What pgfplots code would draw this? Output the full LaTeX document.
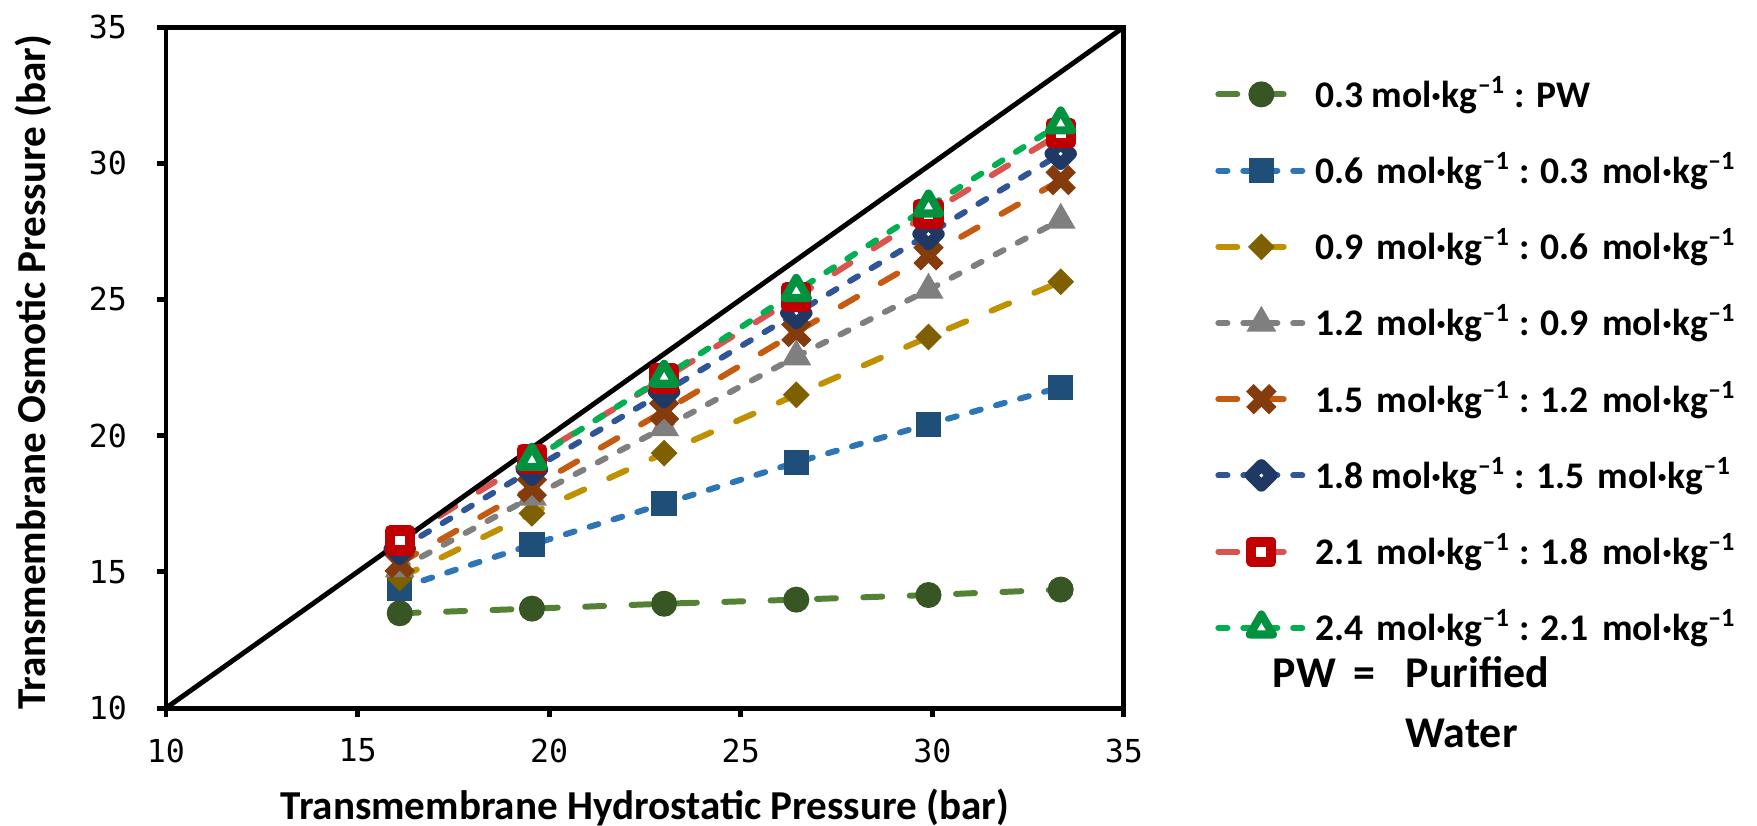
\documentclass[border=0pt]{standalone}
\usepackage{pgfplots}
\usepackage{pgfplotstable}
\pgfplotsset{compat=1.18}
\usepackage{fontspec}
\setmainfont{Carlito}
\newfontfamily\tickfont{DejaVu Sans Mono}

\definecolor{pwline}{HTML}{548235}
\definecolor{pwmark}{HTML}{375623}
\definecolor{bline}{HTML}{2E75B6}
\definecolor{bmark}{HTML}{1F4E79}
\definecolor{gline}{HTML}{BF9000}
\definecolor{gmark}{HTML}{7F6000}
\definecolor{grline}{HTML}{7F7F7F}
\definecolor{grmark}{HTML}{7F7F7F}
\definecolor{oline}{HTML}{C55A11}
\definecolor{omark}{HTML}{843C0C}
\definecolor{nline}{HTML}{2F5597}
\definecolor{nmark}{HTML}{203864}
\definecolor{rline}{HTML}{D9534F}
\definecolor{rmark}{HTML}{C00000}
\definecolor{eline}{HTML}{00B050}
\definecolor{emark}{HTML}{00923F}

\pgfplotstableread{
x      pw     a      b      c      d      e      f      g
16.10  13.48  14.40  14.78  15.12  15.32  15.85  16.15  nan
19.55  13.65  16.00  17.15  17.75  18.10  18.75  19.15  19.10
23.00  13.83  17.50  19.36  20.30  20.90  21.60  22.10  22.15
26.45  13.98  19.02  21.50  22.90  23.80  24.50  25.08  25.30
29.90  14.15  20.42  23.62  25.35  26.62  27.40  28.15  28.40
33.35  14.35  21.78  25.65  27.92  29.38  30.35  31.10  31.45
}\datatable

\pgfplotstableread{
x y
10 10
35 35
}\diagtable

\pgfplotsset{
  ldash/.style={dash pattern=on 5.4pt off 7.8pt},
  sdash/.style={dash pattern=on 2.6pt off 4.5pt},
  ser/.style={line width=1.7pt, line cap=round},
}
\newcommand{\wsp}{\hspace{0.35em}}
\newcommand{\mk}{mol·kg\textsuperscript{–1}}

\begin{document}
\begin{tikzpicture}
\begin{axis}[
  scale only axis,
  width=272.6pt, height=193.8pt,
  xmin=10, xmax=35, ymin=10, ymax=35,
  xtick={10,15,...,35}, ytick={10,15,...,35},
  tick pos=left,
  tick align=outside,
  major tick length=2.6pt,
  major tick style={black, line width=1.4pt},
  axis line style={black, line width=1.4pt},
  tick label style={font=\tickfont\fontsize{9}{10}\selectfont},
  yticklabel style={xshift=-5pt},
  xticklabel style={yshift=-2.6pt},
  /pgf/number format/assume math mode=true,
  xlabel={Transmembrane Hydrostatic Pressure (bar)},
  ylabel={Transmembrane Osmotic Pressure (bar)},
  label style={font=\bfseries\fontsize{11.7}{13}\selectfont},
  xlabel style={at={(axis description cs:0.5,-0.1455)}, anchor=center},
  ylabel style={at={(axis description cs:-0.138,0.493)}, anchor=center},
  legend cell align=left,
  legend style={
    at={(axis description cs:1.0837,0.9495)}, anchor=north west,
    draw=none, fill=none,
    font=\bfseries\fontsize{10.7}{12.5}\selectfont,
    row sep=7.35pt, column sep=0.2pt,
  },
  legend image code/.code={
    \draw[mark repeat=2,mark phase=2] plot coordinates {(0pt,0pt) (12.25pt,0pt) (24.5pt,0pt)};
  },
]
\addplot[ser, pwline, ldash, mark=*, mark size=3.5pt,
  mark options={solid, fill=pwmark, draw=pwmark, line width=0.4pt}]
  table[x=x, y=pw] {\datatable};
\addlegendentry{0.3 \mk\ : PW}
\addplot[ser, bline, sdash, mark=square*, mark size=3.4pt,
  mark options={solid, fill=bmark, draw=bmark, line width=0.4pt}]
  table[x=x, y=a] {\datatable};
\addlegendentry{0.6\wsp\mk\ : 0.3\wsp\mk}
\addplot[ser, gline, ldash, mark=square*, mark size=2.5pt,
  mark options={solid, rotate=45, fill=gmark, draw=gmark, line width=0.4pt}]
  table[x=x, y=b] {\datatable};
\addlegendentry{0.9\wsp\mk\ : 0.6\wsp\mk}
\addplot[ser, grline, sdash, mark=triangle*, mark size=4.5pt,
  mark options={solid, fill=grmark, draw=grmark, line width=0.4pt}]
  table[x=x, y=c] {\datatable};
\addlegendentry{1.2\wsp\mk\ : 0.9\wsp\mk}
\addplot[ser, oline, ldash, mark=x, mark size=4.6pt,
  mark options={solid, draw=omark, line width=3pt, line cap=butt}]
  table[x=x, y=d] {\datatable};
\addlegendentry{1.5\wsp\mk\ : 1.2\wsp\mk}
\addplot[ser, nline, sdash, mark=square*, mark size=2.1pt,
  mark options={solid, rotate=45, fill=white, draw=nmark, line width=3.3pt, line join=round}]
  table[x=x, y=e] {\datatable};
\addlegendentry{1.8 \mk\ : 1.5\wsp\mk}
\addplot[ser, rline, ldash, mark=square*, mark size=2.85pt,
  mark options={solid, fill=white, draw=rmark, line width=2.9pt, line join=round}]
  table[x=x, y=f] {\datatable};
\addlegendentry{2.1\wsp\mk\ : 1.8\wsp\mk}
\addplot[ser, eline, sdash, mark=triangle*, mark size=3.8pt,
  mark options={solid, fill=white, draw=emark, line width=2.3pt, line join=round}]
  table[x=x, y=g] {\datatable};
\addlegendentry{2.4\wsp\mk\ : 2.1\wsp\mk}
\addplot[black, line width=1.4pt, solid, no marks, forget plot]
  table[x=x, y=y] {\diagtable};
\end{axis}
\node[anchor=base west, font=\bfseries\fontsize{12.5}{14}\selectfont, inner sep=0pt]
  at ([shift={(314.8pt,5.96pt)}]current axis.south west) {PW\hspace{0.4em}=};
\node[anchor=base west, font=\bfseries\fontsize{12.5}{14}\selectfont, inner sep=0pt]
  at ([shift={(352.6pt,5.96pt)}]current axis.south west) {Purified};
\node[anchor=base west, font=\bfseries\fontsize{12.5}{14}\selectfont, inner sep=0pt]
  at ([shift={(352.6pt,-11.1pt)}]current axis.south west) {Water};
\pgfresetboundingbox
\path ([shift={(-47.24pt,-33.3pt)}]current axis.south west) rectangle ++(500pt,234.8pt);
\end{tikzpicture}
\end{document}
